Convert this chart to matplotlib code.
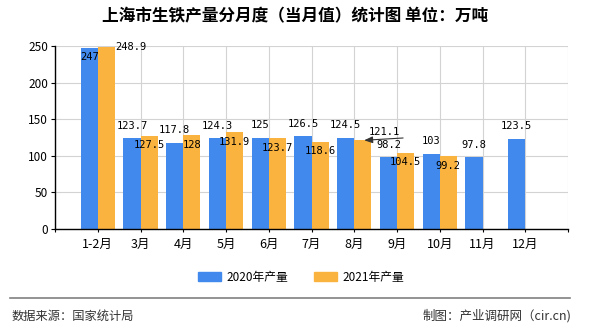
import matplotlib.pyplot as plt
from matplotlib.lines import Line2D
from matplotlib.patches import Rectangle

plt.rcParams['font.family'] = ['Noto Sans CJK SC', 'DejaVu Sans']

months = ['1-2月', '3月', '4月', '5月', '6月', '7月', '8月', '9月', '10月', '11月', '12月']
output_2020 = [247, 123.7, 117.8, 124.3, 125, 126.5, 124.5, 98.2, 103, 97.8, 123.5]
output_2021 = [248.9, 127.5, 128, 131.9, 123.7, 118.6, 121.1, 104.5, 99.2, None, None]

blue = '#4189ec'
orange = '#fbb33f'
bar_w = 0.4
label_font = {'family': 'DejaVu Sans Mono', 'size': 7.5}

fig = plt.figure(figsize=(5.9, 3.3), dpi=100)
ax = fig.add_axes([55 / 590, 1 - 229 / 330, 513 / 590, 183 / 330])

x = list(range(len(months)))
ax.bar([i - bar_w / 2 for i in x], output_2020, width=bar_w, color=blue, zorder=2)
x21 = [i for i, v in enumerate(output_2021) if v is not None]
ax.bar([i + bar_w / 2 for i in x21], [output_2021[i] for i in x21], width=bar_w, color=orange, zorder=2)

# value labels: 2020 above the bar, 2021 tucked inside the top of the bar
for i, v in enumerate(output_2020):
    if i == 0:
        ax.annotate(f'{v:g}', (i - bar_w / 2, v), xytext=(0, -6), textcoords='offset points',
                    ha='center', va='center', zorder=4, **label_font)
    else:
        ax.annotate(f'{v:g}', (i - bar_w / 2, v), xytext=(0, 9), textcoords='offset points',
                    ha='center', va='center', zorder=4, **label_font)

for i in x21:
    v = output_2021[i]
    if i == 0:
        ax.annotate(f'{v:g}', (i + bar_w, v), xytext=(0, 0), textcoords='offset points',
                    ha='left', va='center', zorder=4, **label_font)
    elif i == 6:
        ax.annotate(f'{v:g}', (i + bar_w / 2, v), xytext=(15.5, 6), textcoords='offset points',
                    ha='center', va='center', zorder=4, **label_font)
        ax.annotate('', (i + bar_w / 2, v), xytext=(29, 1.7), textcoords='offset points',
                    arrowprops=dict(arrowstyle='-|>,head_length=0.5,head_width=0.2', color='#333333',
                                    lw=0.8, shrinkA=0, shrinkB=1), zorder=4)
    else:
        ax.annotate(f'{v:g}', (i + bar_w / 2, v), xytext=(0, -6.7), textcoords='offset points',
                    ha='center', va='center', zorder=4, **label_font)

ax.set_xlim(-1, 11)
ax.set_ylim(0, 250)
ax.set_yticks(range(0, 251, 50))
ax.set_xticks(range(-1, 12))
ax.set_xticklabels([''] + months + [''])
ax.grid(True, color='#d3d3d3', lw=0.8, zorder=0)
ax.tick_params(axis='x', length=2.5, width=0.8, pad=4, labelsize=9)
ax.tick_params(axis='y', length=3, width=0.8, pad=2, labelsize=8.5)
for side in ['top', 'right']:
    ax.spines[side].set_visible(False)
for side in ['left', 'bottom']:
    ax.spines[side].set_color('black')
    ax.spines[side].set_linewidth(1)
    ax.spines[side].set_zorder(3)

fig.text(0.5, 1 - 16 / 330, '上海市生铁产量分月度（当月值）统计图 单位：万吨',
         ha='center', va='center', fontsize=12, fontweight='bold')

# legend
handles = [Rectangle((0, 0), 1, 1, color=blue), Rectangle((0, 0), 1, 1, color=orange)]
fig.legend(handles, ['2020年产量', '2021年产量'], loc='center', bbox_to_anchor=(0.51, 1 - 277 / 330),
           ncol=2, frameon=False, fontsize=8.5, handlelength=2.0, handleheight=0.8,
           handletextpad=0.4, columnspacing=2.2)

# footer
fig.add_artist(Line2D([10 / 590, 570 / 590], [1 - 298 / 330] * 2, color='#808080', lw=1.2))
fig.text(12 / 590, 1 - 316 / 330, '数据来源：国家统计局', ha='left', va='center', fontsize=8.8, color='#333333')
fig.text(571 / 590, 1 - 316 / 330, '制图：产业调研网（cir.cn)', ha='right', va='center', fontsize=9, color='#333333')

fig.savefig('out.png', dpi=100)
